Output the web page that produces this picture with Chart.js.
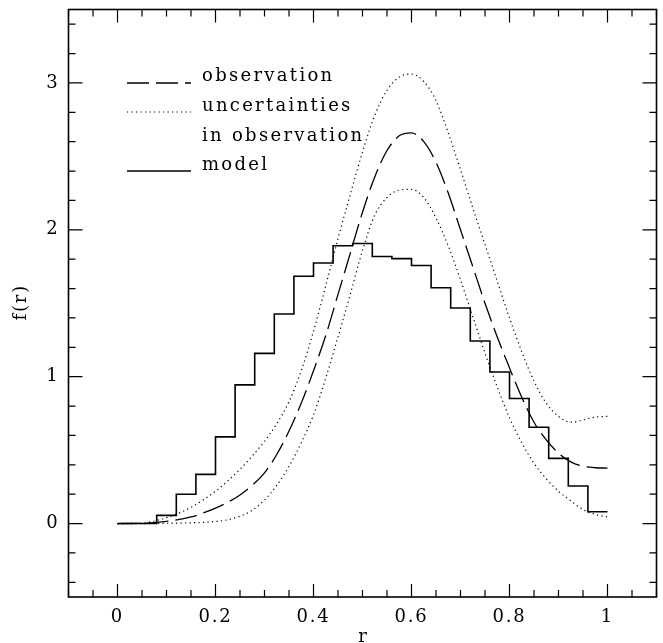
<!DOCTYPE html>
<html>
<head>
<meta charset="utf-8">
<script src="https://cdn.jsdelivr.net/npm/chart.js@4.4.1/dist/chart.umd.min.js"></script>
<style>
  html, body { margin: 0; padding: 0; background: #fff; }
</style>
</head>
<body>
<canvas id="myChart" width="663" height="643"></canvas>
<script>
// histogram of the model: bin edges and the value in each bin (last one repeated to close the step)
const binEdges = [0, 0.04, 0.08, 0.12, 0.16, 0.20, 0.24, 0.28, 0.32, 0.36, 0.40, 0.44, 0.48,
                  0.52, 0.56, 0.60, 0.64, 0.68, 0.72, 0.76, 0.80, 0.84, 0.88, 0.92, 0.96, 1.0]
const modelValues = [0, 0, 0.056, 0.200, 0.335, 0.590, 0.944, 1.159, 1.427, 1.684, 1.774, 1.891, 1.907,
                     1.818, 1.804, 1.757, 1.606, 1.468, 1.243, 1.032, 0.851, 0.656, 0.444, 0.256, 0.080, 0.080]

// smooth curves
const curveR = [0, 0.05, 0.1, 0.15, 0.2, 0.225, 0.25, 0.275, 0.3, 0.325, 0.35, 0.375, 0.4, 0.425,
                0.45, 0.475, 0.5, 0.525, 0.55, 0.575, 0.6, 0.625, 0.65, 0.675, 0.7, 0.725, 0.75,
                0.775, 0.8, 0.825, 0.85, 0.875, 0.9, 0.925, 0.95, 0.975, 1.0]
const observation = [0, 0.002, 0.015, 0.045, 0.105, 0.145, 0.195, 0.26, 0.345, 0.47, 0.63, 0.82, 1.04, 1.28,
                     1.56, 1.84, 2.12, 2.36, 2.54, 2.64, 2.66, 2.6, 2.46, 2.25, 2.0, 1.75, 1.5,
                     1.27, 1.06, 0.86, 0.69, 0.57, 0.48, 0.42, 0.39, 0.38, 0.378]
const upperLimit = [0, 0.004, 0.04, 0.11, 0.22, 0.29, 0.37, 0.46, 0.56, 0.68, 0.83, 1.04, 1.31, 1.62,
                    1.94, 2.24, 2.53, 2.78, 2.95, 3.04, 3.06, 3.01, 2.88, 2.66, 2.41, 2.15, 1.9,
                    1.65, 1.4, 1.17, 0.97, 0.82, 0.73, 0.69, 0.705, 0.725, 0.73]
const lowerLimit = [0, 0, 0.002, 0.005, 0.014, 0.026, 0.05, 0.09, 0.16, 0.26, 0.39, 0.55, 0.74, 0.99,
                    1.27, 1.56, 1.86, 2.1, 2.22, 2.27, 2.275, 2.22, 2.08, 1.89, 1.66, 1.41, 1.16,
                    0.93, 0.72, 0.55, 0.41, 0.305, 0.22, 0.155, 0.095, 0.062, 0.045]

// axis ticks
const xTickValues = [0, 0.2, 0.4, 0.6, 0.8, 1]
const yTickValues = [0, 1, 2, 3]
const legendLabels = ['observation', 'uncertainties', 'in observation', 'model']

const fontFamily = "'DejaVu Serif', serif"
const fontSize = 18
const spacing = '1.8px'

function toPoints(xs, ys) {
    return xs.map((x, i) => ({ x: x, y: ys[i] }))
}

// frame, inward ticks on all four sides, axis titles and the legend
const framePlugin = {
    id: 'frame',
    beforeDraw(chart) {
        chart.ctx.letterSpacing = spacing
    },
    afterDraw(chart) {
        const { ctx, chartArea: a, scales: { x, y } } = chart
        ctx.save()
        ctx.strokeStyle = '#000'
        ctx.lineWidth = 1.6
        ctx.strokeRect(a.left, a.top, a.right - a.left, a.bottom - a.top)

        ctx.lineWidth = 1.2
        ctx.beginPath()
        for (let k = -2; k <= 22; k++) {
            let len = (k % 4 === 0) ? 13 : 7
            let px = x.getPixelForValue(k * 0.05)
            ctx.moveTo(px, a.bottom); ctx.lineTo(px, a.bottom - len)
            ctx.moveTo(px, a.top); ctx.lineTo(px, a.top + len)
        }
        for (let k = -2; k <= 17; k++) {
            let len = (k % 5 === 0) ? 14 : 7
            let py = y.getPixelForValue(k * 0.2)
            ctx.moveTo(a.left, py); ctx.lineTo(a.left + len, py)
            ctx.moveTo(a.right, py); ctx.lineTo(a.right - len, py)
        }
        ctx.stroke()

        ctx.fillStyle = '#000'
        ctx.font = fontSize + 'px ' + fontFamily
        ctx.letterSpacing = spacing

        // axis titles
        ctx.textAlign = 'center'
        ctx.textBaseline = 'alphabetic'
        ctx.fillText('r', (a.left + a.right) / 2 + 1, 642)
        ctx.save()
        ctx.translate(21, (a.top + a.bottom) / 2)
        ctx.rotate(-Math.PI / 2)
        ctx.textBaseline = 'middle'
        ctx.fillText('f(r)', 1, 0)
        ctx.restore()

        // legend
        const rowY = [81, 111, 140.5, 170]
        ctx.textAlign = 'left'
        ctx.letterSpacing = '2.3px'
        legendLabels.forEach((label, i) => {
            ctx.fillText(label, 202, rowY[i])
        })
        const lx0 = 127, lx1 = 191
        ctx.lineWidth = 1.3
        ctx.setLineDash([22, 7])
        ctx.beginPath(); ctx.moveTo(lx0, 83); ctx.lineTo(lx1, 83); ctx.stroke()
        ctx.lineWidth = 1.2
        ctx.setLineDash([1.2, 3.3])
        ctx.beginPath(); ctx.moveTo(lx0, 112); ctx.lineTo(lx1, 112); ctx.stroke()
        ctx.lineWidth = 1.5
        ctx.setLineDash([])
        ctx.beginPath(); ctx.moveTo(lx0, 171); ctx.lineTo(lx1, 171); ctx.stroke()
        ctx.restore()
    }
}

let ctx = document.getElementById('myChart').getContext('2d')
let myChart = new Chart(ctx, {
    type: 'line',
    data: {
        datasets: [{
            label: 'model',
            data: toPoints(binEdges, modelValues),
            stepped: 'before',
            borderColor: '#000',
            borderWidth: 1.6,
            pointRadius: 0,
            fill: false
        }, {
            label: 'observation',
            data: toPoints(curveR, observation),
            borderColor: '#000',
            borderWidth: 1.3,
            borderDash: [22, 7],
            cubicInterpolationMode: 'monotone',
            pointRadius: 0,
            fill: false
        }, {
            label: 'uncertainties (upper)',
            data: toPoints(curveR, upperLimit),
            borderColor: '#000',
            borderWidth: 1.2,
            borderDash: [1.2, 3.3],
            cubicInterpolationMode: 'monotone',
            pointRadius: 0,
            fill: false
        }, {
            label: 'uncertainties (lower)',
            data: toPoints(curveR, lowerLimit),
            borderColor: '#000',
            borderWidth: 1.2,
            borderDash: [1.2, 3.3],
            cubicInterpolationMode: 'monotone',
            pointRadius: 0,
            fill: false
        }]
    },
    options: {
        responsive: false,
        animation: false,
        layout: { padding: { top: 9.5, right: 6.5, left: 0, bottom: 0 } },
        plugins: { legend: { display: false }, tooltip: { enabled: false } },
        scales: {
            x: {
                type: 'linear',
                min: -0.1,
                max: 1.1,
                grid: { display: false, drawTicks: false },
                border: { display: false },
                afterBuildTicks: (s) => { s.ticks = xTickValues.map(v => ({ value: v })) },
                afterFit: (s) => { s.height = 46; s.paddingLeft = 0; s.paddingRight = 0 },
                ticks: {
                    color: '#000',
                    font: { family: fontFamily, size: fontSize },
                    padding: 9.5,
                    maxRotation: 0,
                    autoSkip: false,
                    callback: (v) => String(v)
                }
            },
            y: {
                type: 'linear',
                min: -0.5,
                max: 3.5,
                grid: { display: false, drawTicks: false },
                border: { display: false },
                afterBuildTicks: (s) => { s.ticks = yTickValues.map(v => ({ value: v })) },
                afterFit: (s) => { s.width = 68.5; s.paddingTop = 0; s.paddingBottom = 0 },
                ticks: {
                    color: '#000',
                    font: { family: fontFamily, size: fontSize },
                    padding: 9,
                    autoSkip: false,
                    callback: (v) => String(v)
                }
            }
        }
    },
    plugins: [framePlugin]
})
</script>
</body>
</html>
